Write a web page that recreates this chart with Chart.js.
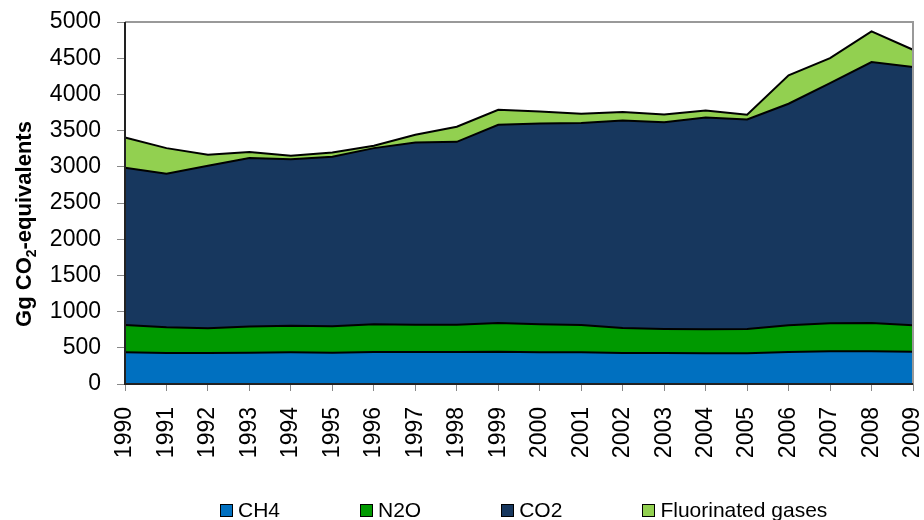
<!DOCTYPE html>
<html>
<head>
<meta charset="utf-8">
<script src="https://cdn.jsdelivr.net/npm/chart.js@4.4.0/dist/chart.umd.min.js"></script>
<style>
  html, body { margin: 0; padding: 0; background: #fff; }
  #wrap { position: relative; width: 924px; height: 520px; }
  #legend {
    position: absolute; left: 220px; top: 498px;
    display: flex; gap: 80px;
    font-family: "Liberation Sans", Arial, sans-serif; font-size: 21px; color: #000;
  }
  .item { display: flex; align-items: center; }
  .box { width: 11px; height: 11px; border: 1px solid #000; margin-right: 5px; }
</style>
</head>
<body>
<div id="wrap">
  <canvas id="chart" width="924" height="520"></canvas>
  <div id="legend"></div>
</div>
<script>
// ===============================
// data (Gg CO2-equivalents)
// ===============================
const years = ["1990","1991","1992","1993","1994","1995","1996","1997","1998","1999",
               "2000","2001","2002","2003","2004","2005","2006","2007","2008","2009"];
const ch4 = [438,428,428,433,438,433,442,442,442,447,438,438,428,428,424,424,442,452,452,447];
const n2o = [378,355,342,360,368,364,383,378,378,396,387,378,346,332,332,336,369,387,391,364];
const co2 = [2170,2120,2244,2327,2300,2341,2433,2516,2525,2737,2774,2788,2866,2857,2926,2894,3060,3318,3604,3567];
const fgas = [419,355,152,83,46,60,32,106,208,208,166,129,116,106,97,65,392,345,424,239];
const yTicks = [0,500,1000,1500,2000,2500,3000,3500,4000,4500,5000];

const seriesNames = ["CH4", "N2O", "CO2", "Fluorinated gases"];
const seriesColors = ["#0070C0", "#009900", "#17375E", "#92D050"];

const FONT = '"Liberation Sans", Arial, sans-serif';

// frame: grey top/right border, dark left/bottom axis
const framePlugin = {
  id: "frame",
  afterDatasetsDraw(chart) {
    const { ctx, chartArea: a } = chart;
    ctx.save();
    ctx.strokeStyle = "#999";
    ctx.lineWidth = 2;
    ctx.beginPath();
    ctx.moveTo(a.left, a.top);
    ctx.lineTo(a.right, a.top);
    ctx.lineTo(a.right, a.bottom);
    ctx.stroke();
    ctx.strokeStyle = "#222";
    ctx.beginPath();
    ctx.moveTo(a.left, a.top);
    ctx.lineTo(a.left, a.bottom);
    ctx.lineTo(a.right, a.bottom);
    ctx.stroke();
    ctx.restore();
  }
};

// y axis title with subscript 2
const yTitlePlugin = {
  id: "ytitle",
  afterDraw(chart) {
    const ctx = chart.ctx;
    const big = "bold 22px " + FONT, small = "bold 14px " + FONT;
    const p1 = "Gg CO", p2 = "2", p3 = "-equivalents";
    ctx.save();
    ctx.font = big;
    const w1 = ctx.measureText(p1).width, w3 = ctx.measureText(p3).width;
    ctx.font = small;
    const w2 = ctx.measureText(p2).width;
    const total = w1 + w2 + w3;
    ctx.translate(24, 224);
    ctx.rotate(-Math.PI / 2);
    ctx.fillStyle = "#000";
    ctx.textBaseline = "alphabetic";
    let x = -total / 2;
    ctx.font = big; ctx.fillText(p1, x, 7); x += w1;
    ctx.font = small; ctx.fillText(p2, x, 12); x += w2;
    ctx.font = big; ctx.fillText(p3, x, 7);
    ctx.restore();
  }
};

const rawSeries = [ch4, n2o, co2, fgas];

new Chart(document.getElementById("chart"), {
  type: "line",
  data: {
    labels: years,
    datasets: rawSeries.map((d, i) => ({
      label: seriesNames[i],
      data: d,
      backgroundColor: seriesColors[i],
      borderColor: "#000",
      borderWidth: 2,
      pointRadius: 0,
      tension: 0,
      fill: i === 0 ? "origin" : "-1"
    }))
  },
  options: {
    responsive: false,
    animation: false,
    layout: { padding: { top: 22, right: 11, left: 0, bottom: 0 } },
    plugins: { legend: { display: false }, tooltip: { enabled: false } },
    scales: {
      x: {
        offset: false,
        grid: { drawOnChartArea: false, drawTicks: true, tickLength: 7, color: "#888" },
        border: { display: false },
        ticks: {
          autoSkip: false, minRotation: 90, maxRotation: 90, padding: 16,
          color: "#000", font: { family: FONT, size: 23 }
        },
        afterFit: s => { s.height = 136; s.paddingLeft = 0; s.paddingRight = 0; }
      },
      y: {
        stacked: true,
        min: 0, max: 5000,
        afterBuildTicks: s => { s.ticks = yTicks.map(v => ({ value: v })); },
        grid: { drawOnChartArea: false, drawTicks: true, tickLength: 8, color: "#888" },
        border: { display: false },
        ticks: {
          padding: 16, color: "#000", font: { family: FONT, size: 23 },
          callback: v => String(v)
        },
        afterFit: s => { s.width = 125; s.paddingTop = 0; s.paddingBottom = 0; }
      }
    }
  },
  plugins: [framePlugin, yTitlePlugin]
});

// legend
const legend = document.getElementById("legend");
seriesNames.forEach((name, i) => {
  const item = document.createElement("div");
  item.className = "item";
  item.innerHTML = `<span class="box" style="background:${seriesColors[i]}"></span><span>${name}</span>`;
  legend.appendChild(item);
});
</script>
</body>
</html>
